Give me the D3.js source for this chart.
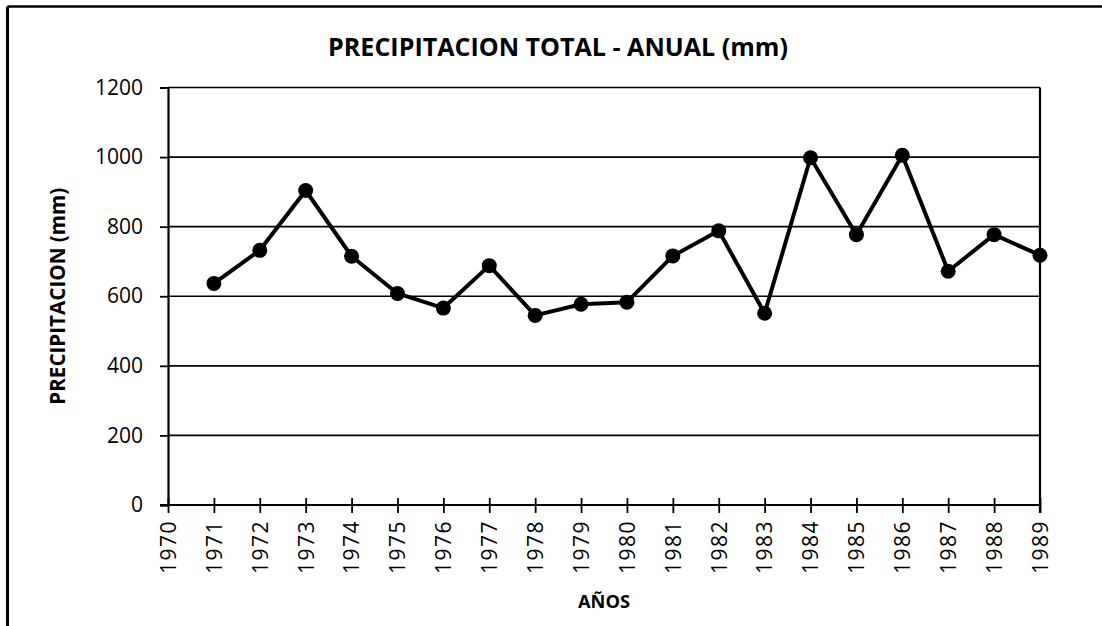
<!DOCTYPE html>
<html>
<head>
<meta charset="utf-8">
<script src="https://cdn.jsdelivr.net/npm/d3@7"></script>
<style>
  html, body { margin: 0; padding: 0; background: #fff; }
  svg { display: block; }
  text { font-family: "Open Sans", "Noto Sans", sans-serif; fill: #000; }
</style>
</head>
<body>
<svg id="chart" width="1102" height="626"></svg>
<script>
// Annual total precipitation (mm), 1971-1989
const years = [1971, 1972, 1973, 1974, 1975, 1976, 1977, 1978, 1979, 1980,
               1981, 1982, 1983, 1984, 1985, 1986, 1987, 1988, 1989];
const precipitation = [637, 732, 904, 715, 608, 566, 688, 545, 577, 583,
                       716, 788, 551, 998, 777, 1005, 672, 777, 718];
const yTicks = [0, 200, 400, 600, 800, 1000, 1200];
const xTicks = d3.range(1970, 1990);

const titleText = "PRECIPITACION TOTAL - ANUAL (mm)";
const xTitle = "AÑOS";
const yTitle = "PRECIPITACION (mm)";

const svg = d3.select("#chart");
const W = 1102, H = 626;
const plot = { left: 168, right: 1040, top: 87.5, bottom: 505 };

const x = d3.scaleLinear().domain([1970, 1989]).range([plot.left, plot.right]);
const y = d3.scaleLinear().domain([0, 1200]).range([plot.bottom, plot.top]);

// fit a text element to a target width by adjusting its font size
function fitWidth(sel, target) {
  const node = sel.node();
  const fs = parseFloat(sel.attr("font-size"));
  const w = node.getComputedTextLength();
  if (w > 0) sel.attr("font-size", (fs * target / w).toFixed(2));
}

// outer frame (top and left edges)
svg.append("line").attr("x1", 7.5).attr("x2", W).attr("y1", 6.5).attr("y2", 6.5)
  .attr("stroke", "#000").attr("stroke-width", 2.5);
svg.append("line").attr("x1", 7.5).attr("x2", 7.5).attr("y1", 6.5).attr("y2", H)
  .attr("stroke", "#000").attr("stroke-width", 3);

// horizontal gridlines
svg.append("g").selectAll("line").data(yTicks.filter(d => d > 0)).join("line")
  .attr("x1", plot.left).attr("x2", plot.right)
  .attr("y1", d => y(d)).attr("y2", d => y(d))
  .attr("stroke", "#000").attr("stroke-width", 1.6);

// y axis
const yAxis = svg.append("g").attr("transform", `translate(${plot.left},0)`)
  .call(d3.axisLeft(y).tickValues(yTicks).tickSize(8).tickPadding(17).tickFormat(d3.format("d")));
yAxis.select(".domain").attr("stroke", "#000").attr("stroke-width", 2.2);
yAxis.selectAll(".tick line").attr("stroke", "#000").attr("stroke-width", 1.8);
yAxis.selectAll(".tick text").attr("font-size", 21).attr("font-family", "'Open Sans', sans-serif")
  .attr("fill", "#000");

// right border of plot area
svg.append("line").attr("x1", plot.right).attr("x2", plot.right)
  .attr("y1", plot.top).attr("y2", plot.bottom + 8)
  .attr("stroke", "#000").attr("stroke-width", 2.2);

// x axis with ticks crossing the baseline
const xAxis = svg.append("g").attr("transform", `translate(0,${plot.bottom})`)
  .call(d3.axisBottom(x).tickValues(xTicks).tickSize(8).tickFormat(d3.format("d")));
xAxis.select(".domain").remove();
svg.append("line").attr("x1", plot.left - 8).attr("x2", plot.right)
  .attr("y1", plot.bottom).attr("y2", plot.bottom)
  .attr("stroke", "#000").attr("stroke-width", 2.2);
xAxis.selectAll(".tick line").attr("y1", -7).attr("y2", 8)
  .attr("stroke", "#000").attr("stroke-width", 1.8);
xAxis.selectAll(".tick text")
  .attr("font-size", 21).attr("font-family", "'Open Sans', sans-serif").attr("fill", "#000")
  .attr("letter-spacing", "1.5px")
  .attr("text-anchor", "end").attr("dy", "0.35em")
  .attr("transform", "translate(0,15) rotate(-90)")
  .attr("x", 0).attr("y", 0);

// data line and markers
const line = d3.line().x((d, i) => x(years[i])).y(d => y(d));
svg.append("path").datum(precipitation)
  .attr("fill", "none").attr("stroke", "#000").attr("stroke-width", 4)
  .attr("stroke-linejoin", "round").attr("d", line);
svg.append("g").selectAll("circle").data(precipitation).join("circle")
  .attr("cx", (d, i) => x(years[i])).attr("cy", d => y(d)).attr("r", 7.5)
  .attr("fill", "#000");

// chart title
const title = svg.append("text").attr("x", 558).attr("y", 56)
  .attr("text-anchor", "middle").attr("font-weight", "bold").attr("font-size", 24)
  .text(titleText);
fitWidth(title, 460);

// axis titles
const xt = svg.append("text").attr("x", (plot.left + plot.right) / 2).attr("y", 608)
  .attr("text-anchor", "middle").attr("font-weight", "bold").attr("font-size", 19)
  .text(xTitle);
fitWidth(xt, 52);

const yt = svg.append("text")
  .attr("transform", `translate(65,${(plot.top + plot.bottom) / 2}) rotate(-90)`)
  .attr("text-anchor", "middle").attr("font-weight", "bold").attr("font-size", 19)
  .text(yTitle);
fitWidth(yt, 217);
</script>
</body>
</html>
